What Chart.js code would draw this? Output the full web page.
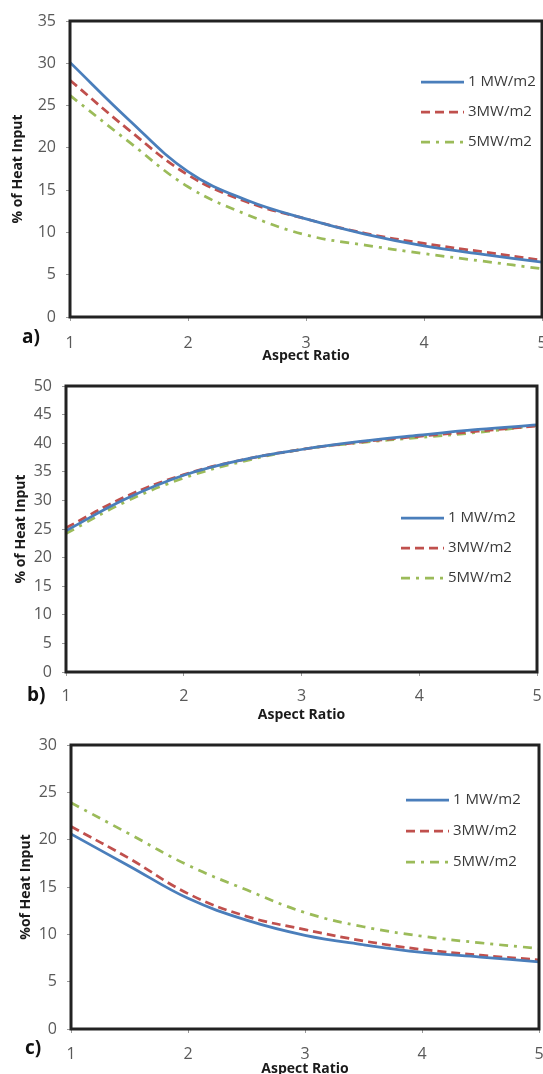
<!DOCTYPE html>
<html>
<head>
<meta charset="utf-8">
<script src="https://cdn.jsdelivr.net/npm/chart.js@4.4.1/dist/chart.umd.min.js"></script>
<style>
  body { margin: 0; background: #fff; width: 543px; height: 1074px; overflow: hidden; position: relative; }
  canvas { position: absolute; left: 0; }
  .tag { position: absolute; font: bold 19px "Open Sans", sans-serif; line-height: 20px; color: #111; }
</style>
</head>
<body>
<canvas id="chartA" width="543" height="364" style="top:0"></canvas>
<canvas id="chartB" width="543" height="359" style="top:364px"></canvas>
<canvas id="chartC" width="543" height="354" style="top:723px"></canvas>
<div class="tag" style="left:22px;top:326px">a)</div>
<div class="tag" style="left:27px;top:684px">b)</div>
<div class="tag" style="left:25px;top:1037px">c)</div>
<script>
// aspect ratio sample points shared by every curve
const aspectRatio = [1, 1.5, 2, 2.5, 3, 3.5, 4, 4.5, 5];
const xTicks = [1, 2, 3, 4, 5];
const fluxLabels = ['1 MW/m2', '3MW/m2', '5MW/m2'];

// a) % of heat input
const a1 = [30.1, 23.3, 17.2, 13.8, 11.6, 9.8, 8.4, 7.4, 6.5];
const a3 = [28.0, 22.1, 16.8, 13.6, 11.6, 9.9, 8.7, 7.7, 6.7];
const a5 = [26.2, 20.7, 15.4, 12.1, 9.7, 8.5, 7.5, 6.6, 5.7];

// b) % of heat input
const b1 = [24.7, 30.2, 34.4, 37.1, 38.9, 40.3, 41.4, 42.4, 43.2];
const b3 = [25.2, 30.6, 34.5, 37.1, 38.9, 40.2, 41.2, 42.1, 43.0];
const b5 = [24.2, 29.7, 33.9, 36.8, 38.9, 40.1, 41.0, 41.9, 43.1];

// c) % of heat input
const c1 = [20.6, 17.2, 13.8, 11.5, 9.9, 8.9, 8.1, 7.6, 7.1];
const c3 = [21.4, 18.0, 14.3, 11.9, 10.5, 9.3, 8.4, 7.8, 7.3];
const c5 = [23.9, 20.6, 17.3, 14.7, 12.3, 10.8, 9.8, 9.1, 8.5];

const yMaxA = 35, yMaxB = 50, yMaxC = 30;

const lineColors = ['#4a7ebb', '#c0504d', '#9bbb59'];
const lineDashes = [[], [9, 5], [9, 6, 3, 6]];

// dark box round the plot area
const frame = {
  id: 'frame',
  afterDatasetsDraw(chart) {
    const { ctx, chartArea: a } = chart;
    const l = Math.round(a.left), t = Math.round(a.top);
    const r = Math.round(a.right), b = Math.round(a.bottom);
    ctx.save();
    ctx.strokeStyle = '#222';
    ctx.lineWidth = 3;
    ctx.strokeRect(l, t, r - l, b - t);
    ctx.restore();
  }
};

// legend drawn inside the plot, one row per dataset
const boxLegend = {
  id: 'boxLegend',
  afterDraw(chart, args, opts) {
    const ctx = chart.ctx;
    ctx.save();
    ctx.font = '15px "Open Sans"';
    ctx.textBaseline = 'middle';
    chart.data.datasets.forEach((ds, i) => {
      const y = opts.y + i * opts.gap;
      ctx.strokeStyle = ds.borderColor;
      ctx.lineWidth = ds.borderWidth;
      ctx.setLineDash(ds.borderDash);
      ctx.beginPath();
      ctx.moveTo(opts.x, y);
      ctx.lineTo(opts.x + 43, y);
      ctx.stroke();
      ctx.setLineDash([]);
      ctx.fillStyle = '#3a3a3a';
      ctx.fillText(ds.label, opts.x + 47, y);
    });
    ctx.restore();
  }
};

function makePanel(id, series, yMax, yTitle, lay) {
  const datasets = series.map((vals, i) => ({
    label: fluxLabels[i],
    data: aspectRatio.map((x, k) => ({ x, y: vals[k] })),
    borderColor: lineColors[i],
    borderDash: lineDashes[i],
    borderWidth: 2.75,
    pointRadius: 0,
    tension: 0.4,
    fill: false
  }));

  const tickFont = { family: 'Open Sans', size: 16 };
  const titleFont = { family: 'Open Sans', size: 14, weight: 'bold' };

  return new Chart(document.getElementById(id), {
    type: 'line',
    data: { datasets },
    plugins: [frame, boxLegend],
    options: {
      responsive: false,
      animation: false,
      layout: { padding: { top: lay.top, right: lay.right, left: 0, bottom: 0 } },
      plugins: {
        legend: { display: false },
        tooltip: { enabled: false },
        boxLegend: { x: lay.legendX, y: lay.legendY, gap: lay.legendGap }
      },
      scales: {
        x: {
          type: 'linear',
          min: xTicks[0],
          max: xTicks[xTicks.length - 1],
          afterBuildTicks: s => { s.ticks = xTicks.map(v => ({ value: v })); },
          afterFit: s => { s.height = lay.xHeight; s.paddingLeft = 0; s.paddingRight = 0; },
          border: { display: false },
          grid: { drawOnChartArea: false, drawTicks: true, tickLength: 4, tickColor: '#9a9a9a' },
          ticks: { font: tickFont, color: '#595959', padding: lay.xPad, maxRotation: 0 },
          title: { display: true, text: 'Aspect Ratio', font: titleFont, color: '#1a1a1a', padding: 0 }
        },
        y: {
          min: 0,
          max: yMax,
          ticks: { stepSize: 5, font: tickFont, color: '#595959', padding: 10 },
          afterFit: s => { s.width = lay.yWidth; s.paddingTop = 0; s.paddingBottom = 0; },
          border: { display: false },
          grid: { drawOnChartArea: false, drawTicks: true, tickLength: 4, tickColor: '#9a9a9a' },
          title: { display: true, text: yTitle, font: titleFont, color: '#1a1a1a', padding: { top: lay.yTitlePad } }
        }
      }
    }
  });
}

makePanel('chartA', [a1, a3, a5], yMaxA, '% of Heat Input', {
  top: 21, right: 1, yWidth: 70, xHeight: 47, xPad: 13, yTitlePad: 10,
  legendX: 421, legendY: 82, legendGap: 30
});

makePanel('chartB', [b1, b3, b5], yMaxB, '% of Heat Input', {
  top: 22, right: 6, yWidth: 66, xHeight: 51, xPad: 11, yTitlePad: 13,
  legendX: 401, legendY: 154, legendGap: 30
});

makePanel('chartC', [c1, c3, c5], yMaxC, '%of Heat Input', {
  top: 22, right: 4, yWidth: 71, xHeight: 48, xPad: 12, yTitlePad: 18,
  legendX: 406, legendY: 77, legendGap: 31
});
</script>
</body>
</html>
